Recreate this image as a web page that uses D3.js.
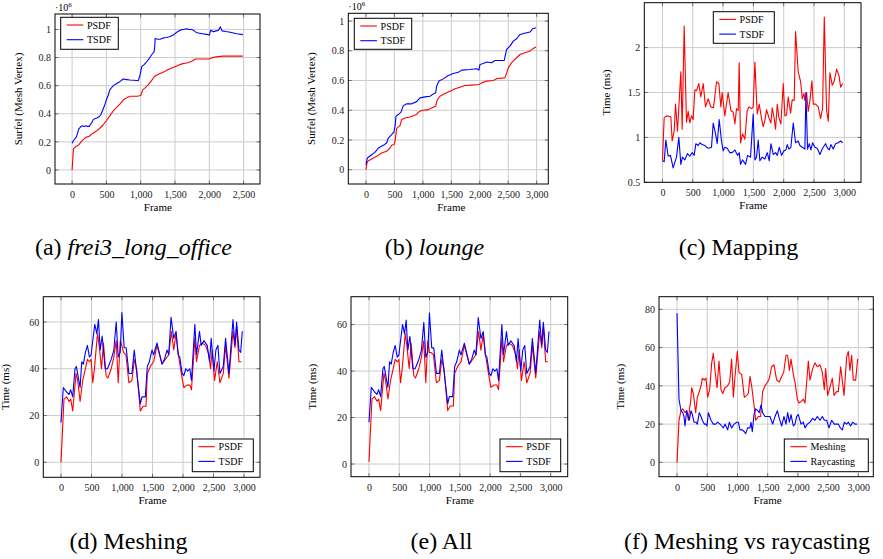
<!DOCTYPE html>
<html>
<head>
<meta charset="utf-8">
<script src="https://cdn.jsdelivr.net/npm/d3@7"></script>
<style>
  body { margin: 0; background: #fff; }
  svg { display: block; }
  svg text { font-family: "Liberation Serif", "DejaVu Serif", "Noto Serif", "Times New Roman", Times, serif; }
</style>
</head>
<body>
<svg id="chart" width="883" height="559"></svg>
<script>
// ---- data ----

// (a) frei3_long_office : surfel / mesh vertex count (x 1e6)
const aPsdfFrames = [0,20,50,100,150,200,250,300,350,400,450,500,550,600,650,700,750,800,850,900,950,1000,1030,1100,1150,1200,1250,1300,1350,1400,1450,1500,1550,1600,1650,1700,1750,1800,1900,2000,2050,2100,2200,2300,2400,2490];
const aPsdfValues = [0,0.15,0.165,0.18,0.21,0.232,0.24,0.26,0.275,0.295,0.32,0.35,0.385,0.42,0.445,0.47,0.5,0.515,0.525,0.525,0.525,0.53,0.57,0.6,0.63,0.665,0.68,0.69,0.7,0.715,0.725,0.735,0.745,0.755,0.76,0.765,0.775,0.79,0.79,0.79,0.8,0.805,0.81,0.81,0.81,0.81];
const aTsdfFrames = [0,15,30,45,63,80,95,112,130,150,175,200,225,250,270,290,310,330,360,400,425,450,475,500,525,550,575,600,650,700,745,800,840,900,965,990,1015,1050,1087,1120,1160,1195,1205,1210,1250,1280,1330,1380,1430,1475,1525,1575,1620,1670,1700,1745,1780,1820,1900,1960,2000,2020,2060,2100,2135,2160,2185,2240,2305,2400,2490];
const aTsdfValues = [0.19,0.205,0.215,0.225,0.235,0.26,0.29,0.3,0.31,0.315,0.31,0.315,0.31,0.31,0.325,0.34,0.36,0.365,0.37,0.38,0.4,0.43,0.46,0.5,0.53,0.57,0.585,0.6,0.615,0.63,0.647,0.643,0.64,0.638,0.635,0.675,0.735,0.75,0.77,0.79,0.82,0.84,0.88,0.935,0.93,0.93,0.94,0.943,0.95,0.96,0.98,0.995,1.0,1.005,1.0,1.0,0.99,0.976,0.97,0.965,0.96,0.995,0.983,0.99,0.995,1.02,0.99,0.985,0.98,0.97,0.963];

// (b) lounge
const bPsdfFrames = [0,23,100,187,275,363,422,451,492,510,540,598,627,686,773,890,920,979,1096,1154,1225,1254,1300,1389,1477,1564,1652,1740,1857,1986,2033,2121,2238,2308,2443,2502,2560,2648,2707,2795,2883,2930,2988];
const bPsdfValues = [0,0.056,0.072,0.09,0.112,0.124,0.146,0.164,0.169,0.19,0.28,0.297,0.337,0.348,0.355,0.371,0.387,0.398,0.404,0.416,0.427,0.472,0.494,0.512,0.528,0.544,0.555,0.566,0.569,0.573,0.584,0.596,0.6,0.613,0.618,0.685,0.72,0.753,0.775,0.787,0.798,0.813,0.825];
const bTsdfFrames = [0,23,100,158,217,305,363,393,451,492,515,527,568,615,656,715,803,890,949,1037,1125,1184,1225,1242,1283,1359,1447,1535,1623,1682,1828,1945,1986,2004,2062,2121,2209,2267,2431,2472,2531,2590,2648,2707,2824,2883,2930,2988];
const bTsdfValues = [0.034,0.079,0.101,0.117,0.146,0.164,0.18,0.213,0.236,0.254,0.303,0.36,0.371,0.387,0.431,0.443,0.443,0.458,0.483,0.49,0.494,0.51,0.517,0.562,0.596,0.611,0.634,0.647,0.656,0.67,0.674,0.679,0.67,0.708,0.715,0.724,0.719,0.735,0.735,0.809,0.831,0.865,0.881,0.91,0.921,0.926,0.948,0.955];

// (c) Mapping time (ms)
const cPsdfFrames = [0,28,66,138,160,193,215,248,303,325,358,396,424,451,479,506,534,562,600,633,672,710,754,798,842,892,930,963,985,1029,1084,1129,1167,1195,1222,1250,1266,1288,1321,1360,1398,1431,1470,1497,1525,1563,1596,1635,1662,1690,1717,1756,1789,1811,1844,1866,1894,1921,1954,1993,2020,2048,2075,2114,2141,2174,2196,2240,2279,2307,2334,2351,2378,2405,2433,2466,2488,2527,2571,2609,2642,2670,2708,2736,2763,2802,2835,2874,2912,2940,2973];
const cPsdfValues = [0.74,1.22,1.24,1.23,0.96,1.07,1.37,1.07,1.73,1.09,2.24,1.17,1.29,1.16,1.24,1.2,1.53,1.52,1.6,1.45,1.6,1.34,1.43,1.34,1.33,1.62,1.6,1.34,1.5,1.24,1.5,1.3,1.28,1.15,1.32,1.3,1.83,0.94,1.04,0.98,1.3,1.34,1.32,1.34,1.84,1.26,1.37,1.21,1.12,1.19,1.31,1.22,1.16,1.33,1.21,1.09,1.37,1.22,1.15,1.6,1.24,1.25,1.45,1.27,1.42,1.41,2.18,1.73,1.62,1.43,1.49,1.41,1.5,1.29,1.41,1.63,1.37,1.37,1.34,1.21,1.32,2.34,1.3,1.18,1.72,1.58,1.63,1.76,1.69,1.56,1.6];
const cTsdfFrames = [0,28,55,94,132,176,231,270,303,330,369,413,451,490,523,551,589,617,655,699,727,765,809,837,875,903,936,974,1002,1029,1068,1112,1150,1195,1239,1266,1288,1321,1371,1404,1453,1497,1525,1552,1580,1607,1646,1690,1729,1762,1789,1828,1866,1894,1927,1965,2004,2037,2059,2086,2119,2158,2196,2240,2268,2306,2350,2367,2394,2422,2449,2477,2515,2554,2598,2636,2691,2724,2752,2779,2818,2856,2900,2939,2973];
const cTsdfValues = [0.74,0.73,0.97,0.79,0.8,0.66,0.78,1.0,0.7,0.78,0.75,0.82,0.79,0.83,0.8,0.93,0.91,0.94,0.92,0.91,0.89,0.88,0.89,1.16,1.04,0.93,1.2,0.96,0.85,0.89,0.88,0.83,0.83,0.86,0.8,0.83,0.7,0.75,0.7,0.8,0.78,1.26,0.75,0.78,0.97,0.74,0.78,0.76,0.83,0.74,0.93,0.81,0.83,0.8,0.89,0.8,0.85,0.86,0.92,0.87,0.89,1.16,0.94,0.96,0.91,0.89,0.87,1.5,0.87,0.93,0.86,0.94,0.89,0.88,0.81,0.87,0.93,0.88,0.86,0.92,0.87,0.93,0.94,0.96,0.94];

// (d) Meshing time (ms)
const dPsdfFrames = [0,49,93,132,159,192,247,274,313,356,400,433,466,494,521,548,598,625,664,696,740,768,823,866,905,938,971,998,1025,1064,1113,1163,1201,1239,1300,1344,1393,1415,1464,1519,1574,1656,1711,1766,1810,1848,1886,1930,1985,2013,2067,2111,2139,2194,2221,2270,2314,2369,2424,2451,2479,2517,2561,2605,2660,2698,2753,2819,2852,2879,2917,2956];
const dPsdfValues = [0,27,28,26,27,22,38,35,26,35,40,44,43,44,34,40,55,50,40,51,37,36,40,45,52,34,52,50,47,46,34,35,44,40,22,24,24,38,41,43,50,42,44,46,56,48,55,45,36,32,33,33,31,53,43,50,51,50,46,40,48,35,43,34,38,50,36,56,49,58,43,43];
const dTsdfFrames = [0,38,93,132,159,192,230,252,285,313,340,367,400,433,466,494,521,554,587,614,642,675,724,762,823,866,905,938,971,998,1036,1069,1113,1163,1201,1239,1300,1327,1382,1415,1448,1492,1519,1574,1656,1695,1738,1766,1804,1848,1886,1919,1947,1985,2013,2046,2078,2111,2139,2194,2221,2270,2298,2342,2397,2435,2462,2506,2539,2572,2605,2660,2698,2753,2819,2852,2879,2917,2945,2972];
const dTsdfValues = [17,32,30,29,31,28,40,41,36,32,43,42,47,50,45,46,52,59,55,61,48,54,40,40,44,48,60,45,47,64,49,49,38,38,48,39,25,28,28,41,43,48,46,51,42,44,48,46,62,53,56,46,45,38,37,40,39,40,35,59,46,56,50,52,50,43,53,39,48,50,38,41,53,38,61,50,60,48,47,56];

// (e) All (ms)
const ePsdfFrames = dPsdfFrames;
const ePsdfValues = [1,28,29,27,28,23,39,36,28,36,41,45,44,45,35,41,56,51,41,52,38,37,41,46,53,35,53,48,48,47,35,36,45,41,23,25,25,39,42,44,51,43,45,47,57,49,56,46,37,33,34,34,32,54,44,51,52,51,47,41,49,36,44,35,39,51,37,57,50,59,44,44];
const eTsdfFrames = dTsdfFrames;
const eTsdfValues = [18,33,31,30,32,29,41,42,37,33,44,43,48,51,46,47,53,60,56,62,49,55,41,41,45,49,61,46,48,65,50,50,39,39,49,40,26,29,29,42,44,49,47,52,43,45,49,47,63,54,57,47,46,39,38,41,40,41,36,60,47,57,51,53,51,44,54,40,49,51,39,42,54,39,62,51,61,49,48,57];

// (f) Meshing vs raycasting (ms)
const fMeshFrames = [0,33,66,94,132,160,188,204,226,243,270,309,336,369,397,419,452,480,507,540,574,601,629,662,695,728,756,794,838,871,904,932,960,998,1026,1070,1114,1153,1180,1208,1235,1274,1302,1346,1384,1417,1456,1500,1528,1566,1605,1649,1693,1732,1765,1803,1831,1859,1886,1925,1952,1991,2018,2063,2090,2118,2173,2200,2245,2283,2322,2366,2405,2438,2460,2493,2520,2570,2598,2642,2669,2708,2763,2807,2835,2862,2890,2917,2956,2989];
const fMeshValues = [0,22,27,28,26,27,22,27,32,39,36,26,34,37,40,44,43,44,34,38,52,57,48,39,53,38,36,39,40,42,54,34,45,58,47,46,34,35,36,45,40,30,22,24,24,37,40,42,44,50,51,43,42,45,47,56,56,48,54,46,42,33,31,32,33,31,53,43,49,52,50,51,47,38,49,35,38,44,35,37,37,50,35,55,58,48,56,43,43,54];
const fRayFrames = [0,33,66,94,116,132,160,188,204,232,254,281,314,336,369,397,419,452,480,496,518,562,601,640,673,711,739,767,794,838,866,904,943,987,1015,1042,1081,1114,1136,1169,1208,1224,1246,1274,1302,1335,1362,1390,1417,1456,1500,1539,1583,1622,1660,1693,1732,1770,1803,1831,1859,1886,1925,1952,1980,2008,2052,2090,2118,2156,2200,2245,2283,2322,2366,2405,2438,2476,2515,2559,2603,2642,2669,2703,2736,2769,2807,2835,2873,2906,2945,2978];
const fRayValues = [78,33,27,26,24,19,27,24,22,27,25,21,21,20,26,24,22,20,20,19,26,22,20,20,21,20,19,18,20,17,21,18,20,21,21,17,17,16,15,18,18,21,16,25,28,27,26,30,26,24,24,24,20,24,27,23,19,24,20,26,21,25,19,20,24,25,20,21,18,20,21,23,22,24,22,24,22,22,18,22,20,20,20,18,17,21,20,21,19,21,20,20];

// ticks and texts
const xTicks2500 = [0, 500, 1000, 1500, 2000, 2500];
const xTicks3000 = [0, 500, 1000, 1500, 2000, 2500, 3000];
const yTicksSurfel = [0, 0.2, 0.4, 0.6, 0.8, 1];
const yTicksMapping = [0.5, 1, 1.5, 2];
const yTicksMeshing = [0, 20, 40, 60];
const yTicksVs = [0, 20, 40, 60, 80];
const legendPT = ["PSDF", "TSDF"];
const legendMR = ["Meshing", "Raycasting"];
const captions = [
    {tag: "(a) ", name: "frei3_long_office", italic: true},
    {tag: "(b) ", name: "lounge", italic: true},
    {tag: "(c) ", name: "Mapping", italic: false},
    {tag: "(d) ", name: "Meshing", italic: false},
    {tag: "(e) ", name: "All", italic: false},
    {tag: "(f) ", name: "Meshing vs raycasting", italic: false},
];

// ---- drawing ----
const svg = d3.select("#chart");
const red = "#ff0000";
const blue = "#0000ff";
const gridColor = "#cccccc";
const serif = '"Liberation Serif", "DejaVu Serif", "Noto Serif", "Times New Roman", Times, serif';

const panels = [
    {box: [55, 260, 14, 184], xd: [-249, 2739], yd: [-0.1, 1.11], xt: xTicks2500, yt: yTicksSurfel,
     ylab: "Surfel (Mesh Vertex)", ylabX: 18, exp: true, legend: [60.7, 17.3, 57.6, 32], names: legendPT,
     series: [[aPsdfFrames, aPsdfValues], [aTsdfFrames, aTsdfValues]], capX: 133.5, capY: 254.5},
    {box: [348.3, 548.3, 13.3, 184], xd: [-311, 3205], yd: [-0.096, 1.052], xt: xTicks3000, yt: yTicksSurfel,
     ylab: "Surfel (Mesh Vertex)", ylabX: 311.3, exp: true, legend: [354.3, 18.3, 57.4, 31], names: legendPT,
     series: [[bPsdfFrames, bPsdfValues], [bTsdfFrames, bTsdfValues]], capX: 434.5, capY: 254.5},
    {box: [644.3, 861, 2.7, 182.3], xd: [-300, 3276], yd: [0.5, 2.5], xt: xTicks3000, yt: yTicksMapping,
     ylab: "Time (ms)", ylabX: 606, exp: false, legend: [713.3, 11.7, 61, 31.6], names: legendPT,
     series: [[cPsdfFrames, cPsdfValues], [cTsdfFrames, cTsdfValues]], capX: 738.5, capY: 254.5},
    {box: [43.3, 260, 296.7, 477.3], xd: [-290, 3262], yd: [-6.4, 70.8], xt: xTicks3000, yt: yTicksMeshing,
     ylab: "Time (ms)", ylabX: 5, exp: false, legend: [192.3, 439, 61, 32.7], names: legendPT,
     series: [[dPsdfFrames, dPsdfValues], [dTsdfFrames, dTsdfValues]], capX: 128.5, capY: 549},
    {box: [351, 567.7, 296.7, 476.7], xd: [-297, 3281], yd: [-5.45, 72.0], xt: xTicks3000, yt: yTicksMeshing,
     ylab: "Time (ms)", ylabX: 312, exp: false, legend: [500, 439, 60.7, 32.7], names: legendPT,
     series: [[ePsdfFrames, ePsdfValues], [eTsdfFrames, eTsdfValues]], capX: 441.5, capY: 549},
    {box: [659, 873.3, 296.7, 476.7], xd: [-298, 3248], yd: [-7.5, 86.6], xt: xTicks3000, yt: yTicksVs,
     ylab: "Time (ms)", ylabX: 620.4, exp: false, legend: [784.3, 439, 84, 32.7], names: legendMR,
     series: [[fMeshFrames, fMeshValues], [fRayFrames, fRayValues]], capX: 747, capY: 549},
];

const colors = [red, blue];

panels.forEach((p, pi) => {
    const [x0, x1, y0, y1] = p.box;
    const x = d3.scaleLinear().domain(p.xd).range([x0, x1]);
    const y = d3.scaleLinear().domain(p.yd).range([y1, y0]);
    const g = svg.append("g").attr("font-family", serif);

    // grid
    g.selectAll(".gx").data(p.xt).enter().append("line")
        .attr("x1", d => x(d)).attr("x2", d => x(d))
        .attr("y1", y0).attr("y2", y1)
        .attr("stroke", gridColor).attr("stroke-width", 1);
    g.selectAll(".gy").data(p.yt).enter().append("line")
        .attr("y1", d => y(d)).attr("y2", d => y(d))
        .attr("x1", x0).attr("x2", x1)
        .attr("stroke", gridColor).attr("stroke-width", 1);

    // axes (labels only, ticks drawn inside)
    const xAxis = d3.axisBottom(x).tickValues(p.xt).tickSize(0).tickPadding(7)
        .tickFormat(d3.format(","));
    const yAxis = d3.axisLeft(y).tickValues(p.yt).tickSize(0).tickPadding(4)
        .tickFormat(d => String(+d.toFixed(2)));
    const gx = g.append("g").attr("transform", `translate(0,${y1})`).call(xAxis);
    const gy = g.append("g").attr("transform", `translate(${x0},0)`).call(yAxis);
    [gx, gy].forEach(a => {
        a.attr("font-family", serif);
        a.select(".domain").remove();
        a.selectAll("text").attr("font-size", 10).attr("fill", "#222");
    });

    // inward tick marks on all sides
    const tl = 3.5;
    p.xt.forEach(t => {
        g.append("line").attr("x1", x(t)).attr("x2", x(t)).attr("y1", y1).attr("y2", y1 - tl)
            .attr("stroke", "#555").attr("stroke-width", 0.8);
        g.append("line").attr("x1", x(t)).attr("x2", x(t)).attr("y1", y0).attr("y2", y0 + tl)
            .attr("stroke", "#555").attr("stroke-width", 0.8);
    });
    p.yt.forEach(t => {
        g.append("line").attr("y1", y(t)).attr("y2", y(t)).attr("x1", x0).attr("x2", x0 + tl)
            .attr("stroke", "#555").attr("stroke-width", 0.8);
        g.append("line").attr("y1", y(t)).attr("y2", y(t)).attr("x1", x1).attr("x2", x1 - tl)
            .attr("stroke", "#555").attr("stroke-width", 0.8);
    });

    // data lines
    const line = d3.line().x(d => x(d[0])).y(d => y(d[1]));
    p.series.forEach((s, si) => {
        const pts = s[0].map((f, i) => [f, s[1][i]]);
        g.append("path").datum(pts)
            .attr("d", line)
            .attr("fill", "none")
            .attr("stroke", colors[si])
            .attr("stroke-width", 1.1)
            .attr("stroke-linejoin", "round");
    });

    // frame
    g.append("rect").attr("x", x0).attr("y", y0).attr("width", x1 - x0).attr("height", y1 - y0)
        .attr("fill", "none").attr("stroke", "#000").attr("stroke-width", 1);

    // legend
    const [lx, ly, lw, lh] = p.legend;
    g.append("rect").attr("x", lx).attr("y", ly).attr("width", lw).attr("height", lh)
        .attr("fill", "#fff").attr("stroke", "#000").attr("stroke-width", 1);
    p.names.forEach((n, i) => {
        const yy = ly + 7.7 + 14.7 * i;
        g.append("line").attr("x1", lx + 6).attr("x2", lx + 22.6).attr("y1", yy).attr("y2", yy)
            .attr("stroke", colors[i]).attr("stroke-width", 1.1);
        g.append("text").attr("x", lx + 26.3).attr("y", yy).attr("dy", "0.35em")
            .attr("font-size", 10).attr("fill", "#000").text(n);
    });

    // axis titles
    g.append("text").attr("x", (x(0) + x(p.xt[p.xt.length - 1])) / 2).attr("y", y1 + 27)
        .attr("text-anchor", "middle").attr("font-size", 11).text("Frame");
    g.append("text")
        .attr("transform", `translate(${p.ylabX},${(y0 + y1) / 2}) rotate(-90)`)
        .attr("text-anchor", "middle").attr("dy", "0.35em")
        .attr("font-size", 11).text(p.ylab);

    // exponent marker
    if (p.exp) {
        const t = g.append("text").attr("x", x0).attr("y", y0 - 3.5).attr("font-size", 10);
        t.append("tspan").text("\u00b710");
        t.append("tspan").attr("font-size", 7).attr("dy", -4).text("6");
    }

    // caption
    const c = captions[pi];
    const ct = svg.append("text").attr("x", p.capX).attr("y", p.capY)
        .attr("font-family", serif)
        .attr("text-anchor", "middle").attr("font-size", 24).attr("fill", "#000");
    ct.append("tspan").text(c.tag);
    ct.append("tspan").attr("font-style", c.italic ? "italic" : "normal").text(c.name);
});
</script>
</body>
</html>
